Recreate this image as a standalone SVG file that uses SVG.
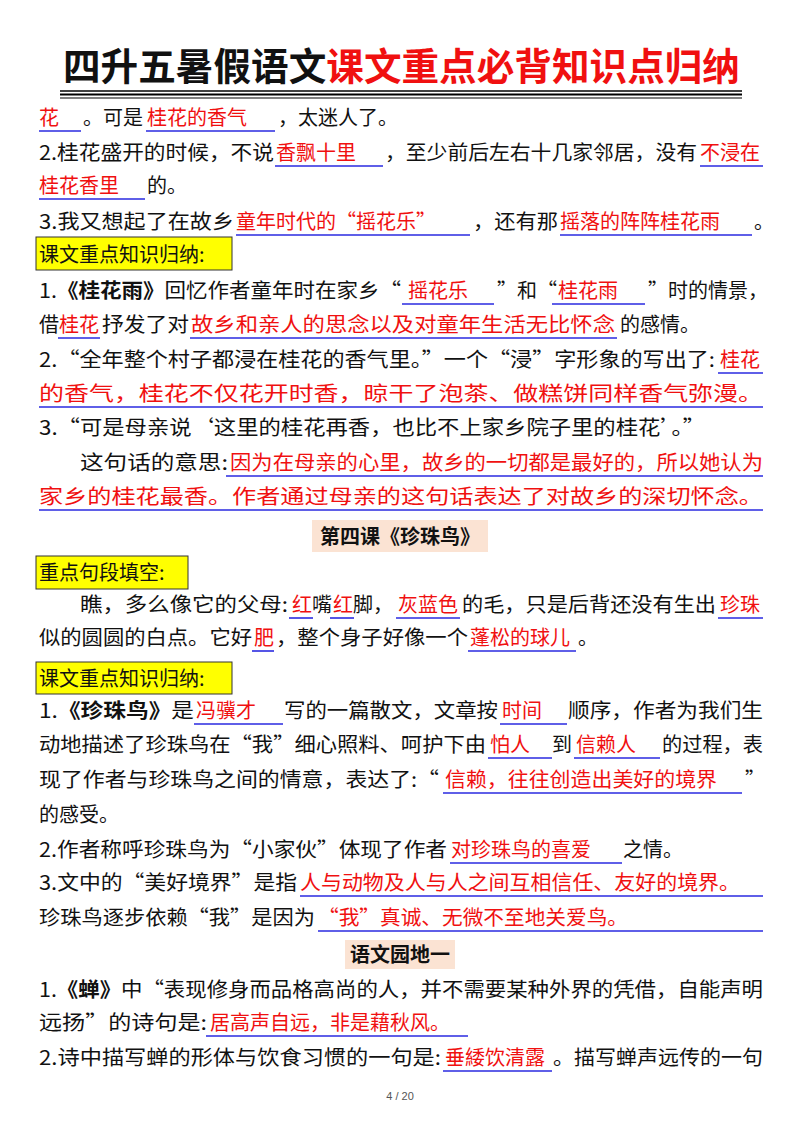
<svg xmlns="http://www.w3.org/2000/svg" width="800" height="1132" viewBox="0 0 800 1132">
<style>
text{font-family:"Noto Sans CJK SC","Noto Sans",sans-serif;font-size:20px;fill:#111}
.r{fill:#f01010}
.b{font-weight:bold}
.u{stroke:#2a2ae0;stroke-width:1.6}
.hl{fill:#ffff00;stroke:#333;stroke-width:1}
</style>
<rect width="800" height="1132" fill="#fff"/>
<g id="title">
<text x="63" y="80" class="b" style="font-size:38px" textLength="677" lengthAdjust="spacingAndGlyphs">四升五暑假语文<tspan class="r">课文重点必背知识点归纳</tspan></text>
<line x1="60" y1="91" x2="742" y2="91" stroke="#000" stroke-width="1.5"/>
<line x1="60" y1="94.5" x2="742" y2="94.5" stroke="#000" stroke-width="2"/>
<line x1="60" y1="98" x2="742" y2="98" stroke="#000" stroke-width="1.2"/>
</g>
<g id="underlines">
<line class="u" x1="39" y1="131" x2="81" y2="131"/><line class="u" x1="146" y1="131" x2="275" y2="131"/>
<line class="u" x1="275" y1="166" x2="383" y2="166"/><line class="u" x1="700" y1="166" x2="763" y2="166"/>
<line class="u" x1="39" y1="199" x2="145" y2="199"/>
<line class="u" x1="236" y1="235" x2="470" y2="235"/><line class="u" x1="560" y1="235" x2="752" y2="235"/>
<line class="u" x1="402" y1="304" x2="494" y2="304"/><line class="u" x1="552" y1="304" x2="645" y2="304"/>
<line class="u" x1="58" y1="338" x2="100" y2="338"/><line class="u" x1="190" y1="338" x2="617" y2="338"/>
<line class="u" x1="718" y1="373" x2="763" y2="373"/>
<line class="u" x1="39" y1="407" x2="763" y2="407"/>
<line class="u" x1="226" y1="476" x2="763" y2="476"/>
<line class="u" x1="39" y1="510" x2="763" y2="510"/>
<line class="u" x1="289" y1="618" x2="313" y2="618"/><line class="u" x1="330" y1="618" x2="354" y2="618"/>
<line class="u" x1="396" y1="618" x2="460" y2="618"/><line class="u" x1="718" y1="618" x2="763" y2="618"/>
<line class="u" x1="252" y1="651" x2="274" y2="651"/><line class="u" x1="468" y1="651" x2="576" y2="651"/>
<line class="u" x1="194" y1="724" x2="283" y2="724"/><line class="u" x1="500" y1="724" x2="567" y2="724"/>
<line class="u" x1="488" y1="758" x2="552" y2="758"/><line class="u" x1="574" y1="758" x2="660" y2="758"/>
<line class="u" x1="443" y1="793" x2="742" y2="793"/>
<line class="u" x1="450" y1="863" x2="622" y2="863"/>
<line class="u" x1="300" y1="896" x2="763" y2="896"/>
<line class="u" x1="318" y1="931" x2="763" y2="931"/>
<line class="u" x1="206" y1="1036" x2="468" y2="1036"/>
<line class="u" x1="443" y1="1071" x2="552" y2="1071"/>
</g>
<g id="sec1">
<text x="39" y="125" class="r">花</text><text x="83" y="125">。可是</text><text x="147" y="125" class="r">桂花的香气</text><text x="278" y="125">，太迷人了。</text>
<text x="39" y="160" textLength="235" lengthAdjust="spacingAndGlyphs">2.桂花盛开的时候，不说</text><text x="276" y="160" class="r">香飘十里</text><text x="385" y="160" textLength="312" lengthAdjust="spacingAndGlyphs">，至少前后左右十几家邻居，没有</text><text x="700" y="160" class="r">不浸在</text>
<text x="39" y="193" class="r">桂花香里</text><text x="147" y="193">的。</text>
<text x="39" y="229" textLength="195" lengthAdjust="spacingAndGlyphs">3.我又想起了在故乡</text><text x="236" y="229" class="r">童年时代的“摇花乐”</text><text x="473" y="229" textLength="85" lengthAdjust="spacingAndGlyphs">，还有那</text><text x="560" y="229" class="r">摇落的阵阵桂花雨</text><text x="754" y="229">。</text>
</g>
<g id="box1"><rect class="hl" x="36" y="237" width="196" height="33"/><text x="39" y="262">课文重点知识归纳:</text></g>
<g id="sec2">
<text x="39" y="298" textLength="362" lengthAdjust="spacingAndGlyphs">1.<tspan class="b">《桂花雨》</tspan>回忆作者童年时在家乡“</text><text x="408" y="298" class="r">摇花乐</text><text x="497" y="298">”和“</text><text x="558" y="298" class="r">桂花雨</text><text x="648" y="298">”时的情景，</text>
<text x="39" y="332">借</text><text x="59" y="332" class="r">桂花</text><text x="102" y="332" textLength="87" lengthAdjust="spacingAndGlyphs">抒发了对</text><text x="191" y="332" class="r" textLength="424" lengthAdjust="spacingAndGlyphs">故乡和亲人的思念以及对童年生活无比怀念</text><text x="620" y="332">的感情。</text>
<text x="39" y="367" textLength="676" lengthAdjust="spacingAndGlyphs">2.“全年整个村子都浸在桂花的香气里。”一个“浸”字形象的写出了:</text><text x="720" y="367" class="r">桂花</text>
<text x="39" y="401" class="r" textLength="724" lengthAdjust="spacingAndGlyphs">的香气，桂花不仅花开时香，晾干了泡茶、做糕饼同样香气弥漫。</text>
<text x="39" y="435" textLength="666" lengthAdjust="spacingAndGlyphs">3.“可是母亲说‘这里的桂花再香，也比不上家乡院子里的桂花’。”</text>
<text x="80" y="470" textLength="148" lengthAdjust="spacingAndGlyphs">这句话的意思:</text><text x="230" y="470" class="r" textLength="533" lengthAdjust="spacingAndGlyphs">因为在母亲的心里，故乡的一切都是最好的，所以她认为</text>
<text x="39" y="504" class="r" textLength="724" lengthAdjust="spacingAndGlyphs">家乡的桂花最香。作者通过母亲的这句话表达了对故乡的深切怀念。</text>
</g>
<g id="heading2"><rect x="312" y="520" width="176" height="32" fill="#fbe3d3"/><text x="400" y="544" class="b" text-anchor="middle">第四课《珍珠鸟》</text></g>
<g id="box2"><rect class="hl" x="36" y="556" width="152" height="33"/><text x="39" y="580">重点句段填空:</text></g>
<g id="sec3">
<text x="80" y="612" textLength="208" lengthAdjust="spacingAndGlyphs">瞧，多么像它的父母:</text><text x="292" y="612" class="r">红</text><text x="312" y="612">嘴</text><text x="333" y="612" class="r">红</text><text x="353" y="612">脚，</text><text x="398" y="612" class="r">灰蓝色</text><text x="462" y="612" textLength="254" lengthAdjust="spacingAndGlyphs">的毛，只是后背还没有生出</text><text x="720" y="612" class="r">珍珠</text>
<text x="39" y="645" textLength="213" lengthAdjust="spacingAndGlyphs">似的圆圆的白点。它好</text><text x="254" y="645" class="r">肥</text><text x="276" y="645" textLength="192" lengthAdjust="spacingAndGlyphs">，整个身子好像一个</text><text x="470" y="645" class="r">蓬松的球儿</text><text x="578" y="645">。</text>
</g>
<g id="box3"><rect class="hl" x="36" y="662" width="196" height="32"/><text x="39" y="686">课文重点知识归纳:</text></g>
<g id="sec4">
<text x="39" y="718" textLength="155" lengthAdjust="spacingAndGlyphs">1.<tspan class="b">《珍珠鸟》</tspan>是</text><text x="196" y="718" class="r">冯骥才</text><text x="284" y="718" textLength="214" lengthAdjust="spacingAndGlyphs">写的一篇散文，文章按</text><text x="502" y="718" class="r">时间</text><text x="568" y="718" textLength="195" lengthAdjust="spacingAndGlyphs">顺序，作者为我们生</text>
<text x="39" y="752" textLength="447" lengthAdjust="spacingAndGlyphs">动地描述了珍珠鸟在“我”细心照料、呵护下由</text><text x="490" y="752" class="r">怕人</text><text x="552" y="752">到</text><text x="576" y="752" class="r">信赖人</text><text x="662" y="752" textLength="101" lengthAdjust="spacingAndGlyphs">的过程，表</text>
<text x="39" y="787" textLength="400" lengthAdjust="spacingAndGlyphs">现了作者与珍珠鸟之间的情意，表达了:“</text><text x="445" y="787" class="r" textLength="272" lengthAdjust="spacingAndGlyphs">信赖，往往创造出美好的境界</text><text x="745" y="787">”</text>
<text x="39" y="822">的感受。</text>
<text x="39" y="857" textLength="408" lengthAdjust="spacingAndGlyphs">2.作者称呼珍珠鸟为“小家伙”体现了作者</text><text x="451" y="857" class="r">对珍珠鸟的喜爱</text><text x="623" y="857">之情。</text>
<text x="39" y="890" textLength="258" lengthAdjust="spacingAndGlyphs">3.文中的“美好境界”是指</text><text x="300" y="890" class="r" textLength="440" lengthAdjust="spacingAndGlyphs">人与动物及人与人之间互相信任、友好的境界。</text>
<text x="39" y="925" textLength="276" lengthAdjust="spacingAndGlyphs">珍珠鸟逐步依赖“我”是因为</text><text x="318" y="925" class="r" textLength="310" lengthAdjust="spacingAndGlyphs">“我”真诚、无微不至地关爱鸟。</text>
</g>
<g id="heading3"><rect x="345" y="940" width="110" height="29" fill="#fbe3d3"/><text x="400" y="962" class="b" text-anchor="middle">语文园地一</text></g>
<g id="sec5">
<text x="39" y="997" textLength="724" lengthAdjust="spacingAndGlyphs">1.<tspan class="b">《蝉》</tspan>中“表现修身而品格高尚的人，并不需要某种外界的凭借，自能声明</text>
<text x="39" y="1030" textLength="168" lengthAdjust="spacingAndGlyphs">远扬”的诗句是:</text><text x="210" y="1030" class="r">居高声自远，非是藉秋风。</text>
<text x="39" y="1065" textLength="402" lengthAdjust="spacingAndGlyphs">2.诗中描写蝉的形体与饮食习惯的一句是:</text><text x="445" y="1065" class="r">垂緌饮清露</text><text x="553" y="1065" textLength="210" lengthAdjust="spacingAndGlyphs">。描写蝉声远传的一句</text>
</g>
<text x="400" y="1100" text-anchor="middle" style="font-size:11px;fill:#555;font-family:'Liberation Sans',sans-serif">4 / 20</text>
</svg>
